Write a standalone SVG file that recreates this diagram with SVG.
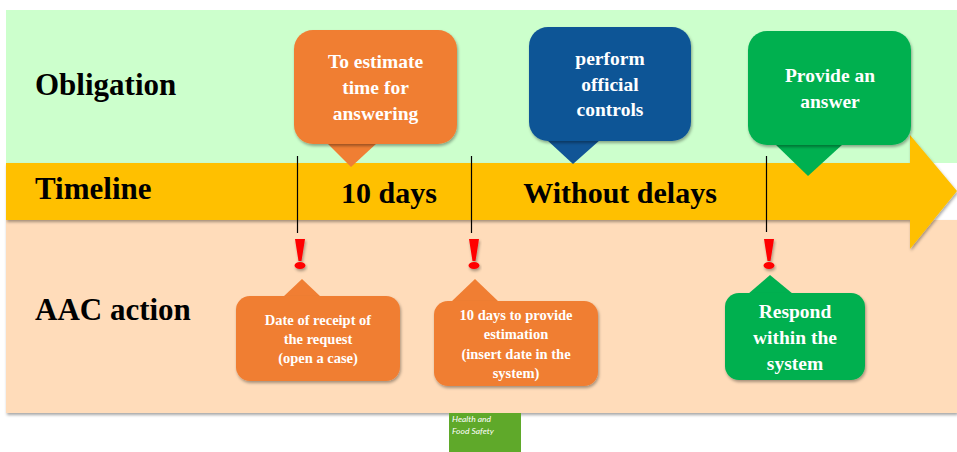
<svg xmlns="http://www.w3.org/2000/svg" width="957" height="452" viewBox="0 0 957 452">
<style>
text{font-family:"Liberation Serif","Times New Roman",serif;font-weight:bold;text-anchor:middle}
.h{fill:#000;font-size:31px;text-anchor:start}
.m{fill:#000;font-size:30px}
.w{fill:#fff}
.s19{font-size:19.5px}
.s14{font-size:14.5px}
.l{stroke:#000;stroke-width:1.2;fill:none}
.bang{fill:#f00;filter:url(#sh)}
.o{fill:#f07e33}.b{fill:#115596}.g{fill:#00b050}
.foot{font-family:Lato,"Open Sans",sans-serif;font-weight:normal;font-style:italic;font-size:8.5px;fill:#fff;text-anchor:start}
</style>
<defs>
<filter id="sh" x="-15%" y="-15%" width="130%" height="130%"><feDropShadow dx="1" dy="2" stdDeviation="1.5" flood-color="#000" flood-opacity="0.35"/></filter>
</defs>
<g id="bands">
<rect x="6" y="10" width="951" height="153" fill="#ccffcc"/>
<rect x="6" y="220" width="951" height="193" fill="#ffdcba" filter="url(#sh)"/>
<rect x="449" y="413" width="72" height="39" fill="#5fa92a"/>
<text class="foot" x="452" y="422">Health and</text>
<text class="foot" x="452" y="434">Food Safety</text>
</g>
<g id="timeline">
<path d="M6 163H910V135L957 191L910 249V220H6Z" fill="#ffc000" filter="url(#sh)"/>
<text class="h" x="35" y="199">Timeline</text>
<text class="m" x="389" y="203">10 days</text>
<text class="m" x="620" y="203">Without delays</text>
</g>
<g id="label-obligation"><text class="h" x="35" y="95">Obligation</text></g>
<g id="label-aac"><text class="h" x="35" y="320">AAC action</text></g>
<g id="connectors">
<path class="l" d="M297.5 156V233M471.5 156V233M766.5 156V232"/>
</g>
<g id="bang1"><path class="bang" d="M295 239H305L301.5 261H298.500ZM294.500 265.500a5.500 3.500 0 0 0 11 0a5.500 3.500 0 0 0 -11 0Z"/></g>
<g id="bang2"><path class="bang" d="M469 239H479L475.500 261H472.500ZM468.500 265.500a5.500 3.500 0 0 0 11 0a5.500 3.500 0 0 0 -11 0Z"/></g>
<g id="bang3"><path class="bang" d="M764 239H774L770.500 261H767.500ZM763.500 265.500a5.500 3.500 0 0 0 11 0a5.500 3.500 0 0 0 -11 0Z"/></g>
<g id="obl1">
<path class="o" d="M327 143L351 167L377 143Z"/>
<rect class="o" x="294" y="30" width="163" height="114" rx="19" filter="url(#sh)"/>
<text class="w s19" x="375.500" y="68">To estimate</text>
<text class="w s19" x="375.500" y="94">time for</text>
<text class="w s19" x="375.500" y="120">answering</text>
</g>
<g id="obl2">
<path class="b" d="M547 140L573 164L600 140Z"/>
<rect class="b" x="529" y="27" width="162" height="114" rx="19" filter="url(#sh)"/>
<text class="w s19" x="610" y="65">perform</text>
<text class="w s19" x="610" y="91">official</text>
<text class="w s19" x="610" y="116">controls</text>
</g>
<g id="obl3">
<path class="g" d="M775 144L808 176L843 144Z"/>
<rect class="g" x="748" y="31" width="163" height="114" rx="19" filter="url(#sh)"/>
<text class="w s19" x="830" y="82">Provide an</text>
<text class="w s19" x="830" y="108">answer</text>
</g>
<g id="aac1">
<path class="o" d="M283 297L302 279L321 297Z"/>
<rect class="o" x="236" y="296" width="164" height="85" rx="14" filter="url(#sh)"/>
<text class="w s14" x="318" y="325">Date of receipt of</text>
<text class="w s14" x="318" y="344">the request</text>
<text class="w s14" x="318" y="363">(open a case)</text>
</g>
<g id="aac2">
<path class="o" d="M451 302L475 279L499 302Z"/>
<rect class="o" x="434" y="301" width="164" height="85" rx="14" filter="url(#sh)"/>
<text class="w s14" x="516" y="320">10 days to provide</text>
<text class="w s14" x="516" y="339">estimation</text>
<text class="w s14" x="516" y="359">(insert date in the</text>
<text class="w s14" x="516" y="378">system)</text>
</g>
<g id="aac3">
<path class="g" d="M748 294L770 275L793 294Z"/>
<rect class="g" x="725" y="293" width="140" height="87" rx="14" filter="url(#sh)"/>
<text class="w s19" x="795" y="318">Respond</text>
<text class="w s19" x="795" y="344">within the</text>
<text class="w s19" x="795" y="370">system</text>
</g>
</svg>
